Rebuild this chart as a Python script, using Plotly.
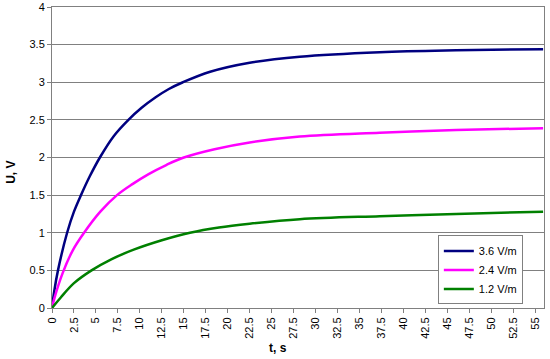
import plotly.graph_objects as go

# readings: (time, s) and (voltage, V) for each field strength
t_36 = [0, 0.25, 0.68, 1.72, 2.5, 3.3, 4.3, 5.45, 7, 8.7, 10.2, 11.8, 13.3,
        14.9, 18, 22.5, 28.2, 37.3, 46, 55.9]
u_36 = [0, 0.22, 0.5, 1.0, 1.28, 1.5, 1.75, 2.0, 2.28, 2.5, 2.66, 2.8, 2.91,
        3.0, 3.14, 3.26, 3.34, 3.40, 3.425, 3.44]

t_24 = [0, 0.3, 1.2, 2.38, 3.65, 5.5, 7.4, 9.2, 11, 13, 15, 18.5, 22.5,
        28.2, 37.3, 46, 55.9]
u_24 = [0, 0.14, 0.46, 0.77, 1.0, 1.28, 1.5, 1.65, 1.78, 1.9, 2.0, 2.11,
        2.20, 2.28, 2.33, 2.365, 2.39]

t_12 = [0, 1, 2.5, 4.5, 6.8, 9.3, 12.5, 15.7, 19, 22.5, 28.2, 37.3, 46,
        55.9]
u_12 = [0, 0.14, 0.33, 0.5, 0.65, 0.775, 0.9, 1.0, 1.07, 1.12, 1.18, 1.22,
        1.25, 1.28]

series = [("3.6 V/m", t_36, u_36, "#000080"),
          ("2.4 V/m", t_24, u_24, "#FF00FF"),
          ("1.2 V/m", t_12, u_12, "#008000")]

x_ticks = [i * 2.5 for i in range(23)]
x_labels = [f"{v:g}" for v in x_ticks]

fig = go.Figure()
for name, xs, ys, color in series:
    fig.add_trace(go.Scatter(
        x=xs, y=ys, name=name, mode="lines",
        line=dict(color=color, width=2.5, shape="spline", smoothing=1.0),
    ))

font_name = "Liberation Sans, Arial"

fig.update_layout(
    width=550, height=359,
    margin=dict(l=52, r=6, t=7, b=51),
    plot_bgcolor="white", paper_bgcolor="white",
    font=dict(family=font_name, size=11, color="black"),
    legend=dict(
        x=0.957, y=0.012, xanchor="right", yanchor="bottom",
        bgcolor="white", bordercolor="#808080", borderwidth=1,
        font=dict(family=font_name, size=11),
        itemwidth=30, tracegroupgap=0,
    ),
    xaxis=dict(
        range=[0, 56], tickvals=x_ticks, ticktext=x_labels, tickangle=-90,
        showgrid=False, zeroline=False, automargin=False,
        showline=True, linecolor="#808080", linewidth=1, mirror=True,
        ticks="outside", ticklen=4, tickcolor="#808080",
    ),
    yaxis=dict(
        range=[0, 4], dtick=0.5, automargin=False,
        showgrid=True, gridcolor="#808080", gridwidth=1, zeroline=False,
        showline=True, linecolor="#808080", linewidth=1, mirror=True,
        ticks="outside", ticklen=4, tickcolor="#808080",
    ),
)

# axis titles placed where the original chart has them
fig.add_annotation(text="<b>t, s</b>", x=0.459, y=-0.163, xref="paper",
                   yref="paper", showarrow=False,
                   font=dict(family=font_name, size=12))
fig.add_annotation(text="<b>U, V</b>", x=-0.103, y=0.45, xref="paper",
                   yref="paper", showarrow=False, textangle=-90,
                   font=dict(family=font_name, size=12))

fig.write_html("out.html", config={"displayModeBar": False},
               post_script="document.body.style.margin='0';")
